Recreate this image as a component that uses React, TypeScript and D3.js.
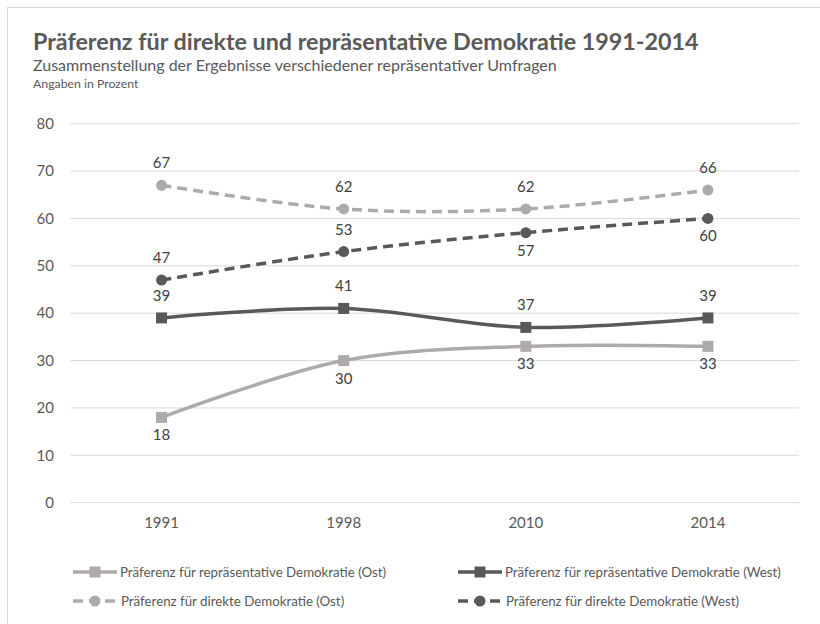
import React from "react";
import * as d3 from "d3";

const years = ["1991", "1998", "2010", "2014"];
const reprOst = [18, 30, 33, 33];
const reprWest = [39, 41, 37, 39];
const direktOst = [67, 62, 62, 66];
const direktWest = [47, 53, 57, 60];
const yTicks = [0, 10, 20, 30, 40, 50, 60, 70, 80];

const labelReprOst = ["below", "below", "below", "below"];
const labelReprWest = ["above", "above", "above", "above"];
const labelDirektOst = ["above", "above", "above", "above"];
const labelDirektWest = ["above", "above", "below", "below"];

const LIGHT = "#aeaaaa";
const DARK = "#595959";
const TEXT = "#595959";
const LABEL = "#404040";
const GRID = "#d9d9d9";
const FONT = "Lato, 'Open Sans', sans-serif";

const series = [
  { name: "Präferenz für repräsentative Demokratie (Ost)", values: reprOst, color: LIGHT, dashed: false, marker: "square", labels: labelReprOst },
  { name: "Präferenz für repräsentative Demokratie (West)", values: reprWest, color: DARK, dashed: false, marker: "square", labels: labelReprWest },
  { name: "Präferenz für direkte Demokratie (Ost)", values: direktOst, color: LIGHT, dashed: true, marker: "circle", labels: labelDirektOst },
  { name: "Präferenz für direkte Demokratie (West)", values: direktWest, color: DARK, dashed: true, marker: "circle", labels: labelDirektWest },
];

const W = 820;
const H = 624;

export default function App() {
  const x = d3.scalePoint<string>().domain(years).range([70.5, 799]).padding(0.5);
  const y = d3.scaleLinear().domain([0, 80]).range([502.7, 123.7]);
  const line = d3
    .line<number>()
    .x((_, i) => x(years[i]) as number)
    .y((d) => y(d))
    .curve(d3.curveCatmullRom.alpha(0.5));

  const marker = (m: string, cx: number, cy: number, color: string, key: string) =>
    m === "square" ? (
      <rect key={key} x={cx - 5.5} y={cy - 5.5} width={11} height={11} fill={color} />
    ) : (
      <circle key={key} cx={cx} cy={cy} r={5.5} fill={color} />
    );

  const legendPos = [
    { lx: 73, ly: 572 },
    { lx: 458, ly: 572 },
    { lx: 73, ly: 601 },
    { lx: 458, ly: 601 },
  ];

  return (
    <svg width={W} height={H} style={{ position: "absolute", left: 0, top: 0 }} fontFamily={FONT}>
      <rect x={0} y={0} width={W} height={H} fill="#fff" />
      <rect x={7.5} y={7.5} width={W} height={H} fill="none" stroke={GRID} strokeWidth={1} />
      <text x={33} y={50} fontSize={23.3} fontWeight="bold" fill={TEXT}>
        Präferenz für direkte und repräsentative Demokratie 1991-2014
      </text>
      <text x={33} y={71} fontSize={16} fill={TEXT}>
        Zusammenstellung der Ergebnisse verschiedener repräsentativer Umfragen
      </text>
      <text x={33} y={88} fontSize={12.3} fill={TEXT}>
        Angaben in Prozent
      </text>

      {yTicks.map((t) => (
        <g key={t}>
          <line x1={70.5} x2={799} y1={y(t)} y2={y(t)} stroke={GRID} strokeWidth={1} />
          <text x={54} y={y(t)} dy="0.35em" textAnchor="end" fontSize={15} fill={TEXT}>
            {t}
          </text>
        </g>
      ))}
      {years.map((yr) => (
        <text key={yr} x={x(yr)} y={528} textAnchor="middle" fontSize={15} fill={TEXT}>
          {yr}
        </text>
      ))}

      {series.map((s, si) => (
        <g key={si}>
          <path
            d={line(s.values) || ""}
            fill="none"
            stroke={s.color}
            strokeWidth={3.5}
            strokeDasharray={s.dashed ? "10,6" : undefined}
          />
          {s.values.map((v, i) => marker(s.marker, x(years[i]) as number, y(v), s.color, `m${i}`))}
          {s.values.map((v, i) => (
            <text
              key={`l${i}`}
              x={x(years[i])}
              y={y(v) + (s.labels[i] === "above" ? -17 : 23)}
              textAnchor="middle"
              fontSize={15}
              fill={LABEL}
            >
              {v}
            </text>
          ))}
        </g>
      ))}

      {series.map((s, si) => {
        const p = legendPos[si];
        return (
          <g key={`leg${si}`}>
            <line
              x1={p.lx}
              x2={p.lx + 44}
              y1={p.ly}
              y2={p.ly}
              stroke={s.color}
              strokeWidth={3.5}
              strokeDasharray={s.dashed ? "10,6" : undefined}
            />
            {marker(s.marker, p.lx + 22, p.ly, s.color, "lm")}
            <text x={p.lx + (s.dashed ? 48 : 47)} y={p.ly} dy="0.35em" fontSize={13.3} fill={TEXT}>
              {s.name}
            </text>
          </g>
        );
      })}
    </svg>
  );
}
